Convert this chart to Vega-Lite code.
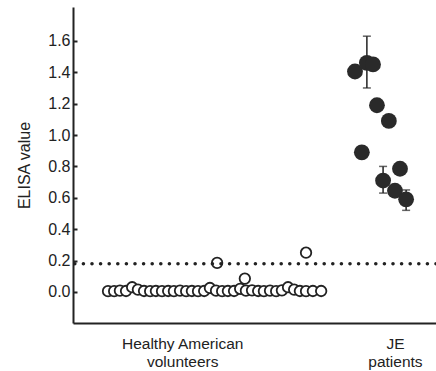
{
  "$schema": "https://vega.github.io/schema/vega-lite/v6.json",
  "width": 363,
  "height": 316,
  "autosize": {"type": "none"},
  "padding": {"left": 73, "top": 7, "right": 0, "bottom": 48},
  "background": "white",
  "config": {
    "view": {"stroke": null},
    "font": "Liberation Sans",
    "axis": {"grid": false, "domainColor": "#222", "domainWidth": 2, "labelColor": "#222", "titleColor": "#222"},
    "axisY": {"values": [0, 0.2, 0.4, 0.6, 0.8, 1.0, 1.2, 1.4, 1.6], "labelOverlap": false, "labelFontSize": 16, "labelPadding": 7, "tickSize": -4, "tickColor": "#222", "tickWidth": 2, "titleFontSize": 16, "titleFontWeight": "normal", "titlePadding": 15}
  },
  "datasets": {
    "healthy": [
      {"pos": 8.9, "elisa": 0.005}, {"pos": 10.6, "elisa": 0.005}, {"pos": 12.2, "elisa": 0.008},
      {"pos": 13.9, "elisa": 0.006}, {"pos": 15.6, "elisa": 0.03}, {"pos": 17.2, "elisa": 0.015},
      {"pos": 18.9, "elisa": 0.006}, {"pos": 20.6, "elisa": 0.005}, {"pos": 22.2, "elisa": 0.006},
      {"pos": 23.9, "elisa": 0.005}, {"pos": 25.6, "elisa": 0.006}, {"pos": 27.2, "elisa": 0.005},
      {"pos": 28.9, "elisa": 0.008}, {"pos": 30.6, "elisa": 0.005}, {"pos": 32.2, "elisa": 0.006},
      {"pos": 33.9, "elisa": 0.005}, {"pos": 35.6, "elisa": 0.006}, {"pos": 37.2, "elisa": 0.025},
      {"pos": 38.9, "elisa": 0.008}, {"pos": 40.6, "elisa": 0.005}, {"pos": 42.2, "elisa": 0.006},
      {"pos": 43.9, "elisa": 0.006}, {"pos": 45.6, "elisa": 0.02}, {"pos": 47.2, "elisa": 0.008},
      {"pos": 48.9, "elisa": 0.01}, {"pos": 50.6, "elisa": 0.006}, {"pos": 52.2, "elisa": 0.005},
      {"pos": 53.9, "elisa": 0.008}, {"pos": 55.6, "elisa": 0.005}, {"pos": 57.2, "elisa": 0.01},
      {"pos": 58.9, "elisa": 0.03}, {"pos": 60.6, "elisa": 0.015}, {"pos": 62.2, "elisa": 0.006},
      {"pos": 63.9, "elisa": 0.005}, {"pos": 65.8, "elisa": 0.006}, {"pos": 68.1, "elisa": 0.006},
      {"pos": 39.2, "elisa": 0.185}, {"pos": 46.9, "elisa": 0.085}, {"pos": 63.9, "elisa": 0.25}
    ],
    "je": [
      {"pos": 77.5, "elisa": 1.405},
      {"pos": 80.8, "elisa": 1.46, "lo": 1.3, "hi": 1.63},
      {"pos": 82.5, "elisa": 1.45},
      {"pos": 83.6, "elisa": 1.19},
      {"pos": 86.9, "elisa": 1.09},
      {"pos": 79.4, "elisa": 0.89},
      {"pos": 90.0, "elisa": 0.785},
      {"pos": 85.3, "elisa": 0.71, "lo": 0.63, "hi": 0.8},
      {"pos": 88.6, "elisa": 0.645},
      {"pos": 91.7, "elisa": 0.59, "lo": 0.52, "hi": 0.65}
    ],
    "cutoff": [{"elisa": 0.18}]
  },
  "layer": [
    {
      "data": {"name": "healthy"},
      "mark": {"type": "point", "shape": "circle", "filled": false, "fill": "white", "fillOpacity": 1, "stroke": "#222", "strokeWidth": 1.8, "size": 110, "opacity": 1},
      "encoding": {
        "x": {"field": "pos", "type": "quantitative", "scale": {"domain": [-0.833, 100], "nice": false, "zero": false},
              "axis": {"values": [29.5, 88.6], "title": null, "ticks": false, "labelFontSize": 15.5, "labelPadding": 13, "labelLineHeight": 18,
                       "labelExpr": "datum.value < 50 ? ['Healthy American', 'volunteers'] : ['JE', 'patients']"}},
        "y": {"field": "elisa", "type": "quantitative", "scale": {"domain": [-0.198, 1.816], "nice": false, "zero": false},
              "axis": {"values": [0, 0.2, 0.4, 0.6, 0.8, 1.0, 1.2, 1.4, 1.6], "format": ".1f", "labelOverlap": false, "title": "ELISA value"}}
      }
    },
    {
      "data": {"name": "cutoff"},
      "mark": {"type": "rule", "strokeDash": [0, 8.6], "strokeCap": "round", "strokeWidth": 3.6, "color": "#222"},
      "encoding": {
        "y": {"field": "elisa", "type": "quantitative",
              "axis": {"values": [0, 0.2, 0.4, 0.6, 0.8, 1.0, 1.2, 1.4, 1.6], "format": ".1f", "labelOverlap": false, "title": "ELISA value"}}
      }
    },
    {
      "data": {"name": "je"},
      "transform": [{"filter": "isValid(datum.lo)"}],
      "mark": {"type": "rule", "color": "#222", "strokeWidth": 1.5},
      "encoding": {
        "x": {"field": "pos", "type": "quantitative"},
        "y": {"field": "lo", "type": "quantitative",
              "axis": {"values": [0, 0.2, 0.4, 0.6, 0.8, 1.0, 1.2, 1.4, 1.6], "format": ".1f", "labelOverlap": false, "title": "ELISA value"}},
        "y2": {"field": "hi"}
      }
    },
    {
      "data": {"name": "je"},
      "transform": [{"filter": "isValid(datum.lo)"}],
      "mark": {"type": "tick", "orient": "horizontal", "color": "#222", "size": 8, "thickness": 1.5},
      "encoding": {
        "x": {"field": "pos", "type": "quantitative"},
        "y": {"field": "lo", "type": "quantitative",
              "axis": {"values": [0, 0.2, 0.4, 0.6, 0.8, 1.0, 1.2, 1.4, 1.6], "format": ".1f", "labelOverlap": false, "title": "ELISA value"}}
      }
    },
    {
      "data": {"name": "je"},
      "transform": [{"filter": "isValid(datum.hi)"}],
      "mark": {"type": "tick", "orient": "horizontal", "color": "#222", "size": 8, "thickness": 1.5},
      "encoding": {
        "x": {"field": "pos", "type": "quantitative"},
        "y": {"field": "hi", "type": "quantitative",
              "axis": {"values": [0, 0.2, 0.4, 0.6, 0.8, 1.0, 1.2, 1.4, 1.6], "format": ".1f", "labelOverlap": false, "title": "ELISA value"}}
      }
    },
    {
      "data": {"name": "je"},
      "mark": {"type": "point", "shape": "circle", "filled": true, "color": "#2a2a2a", "size": 250, "opacity": 1},
      "encoding": {
        "x": {"field": "pos", "type": "quantitative"},
        "y": {"field": "elisa", "type": "quantitative",
              "axis": {"values": [0, 0.2, 0.4, 0.6, 0.8, 1.0, 1.2, 1.4, 1.6], "format": ".1f", "labelOverlap": false, "title": "ELISA value"}}
      }
    }
  ]
}
